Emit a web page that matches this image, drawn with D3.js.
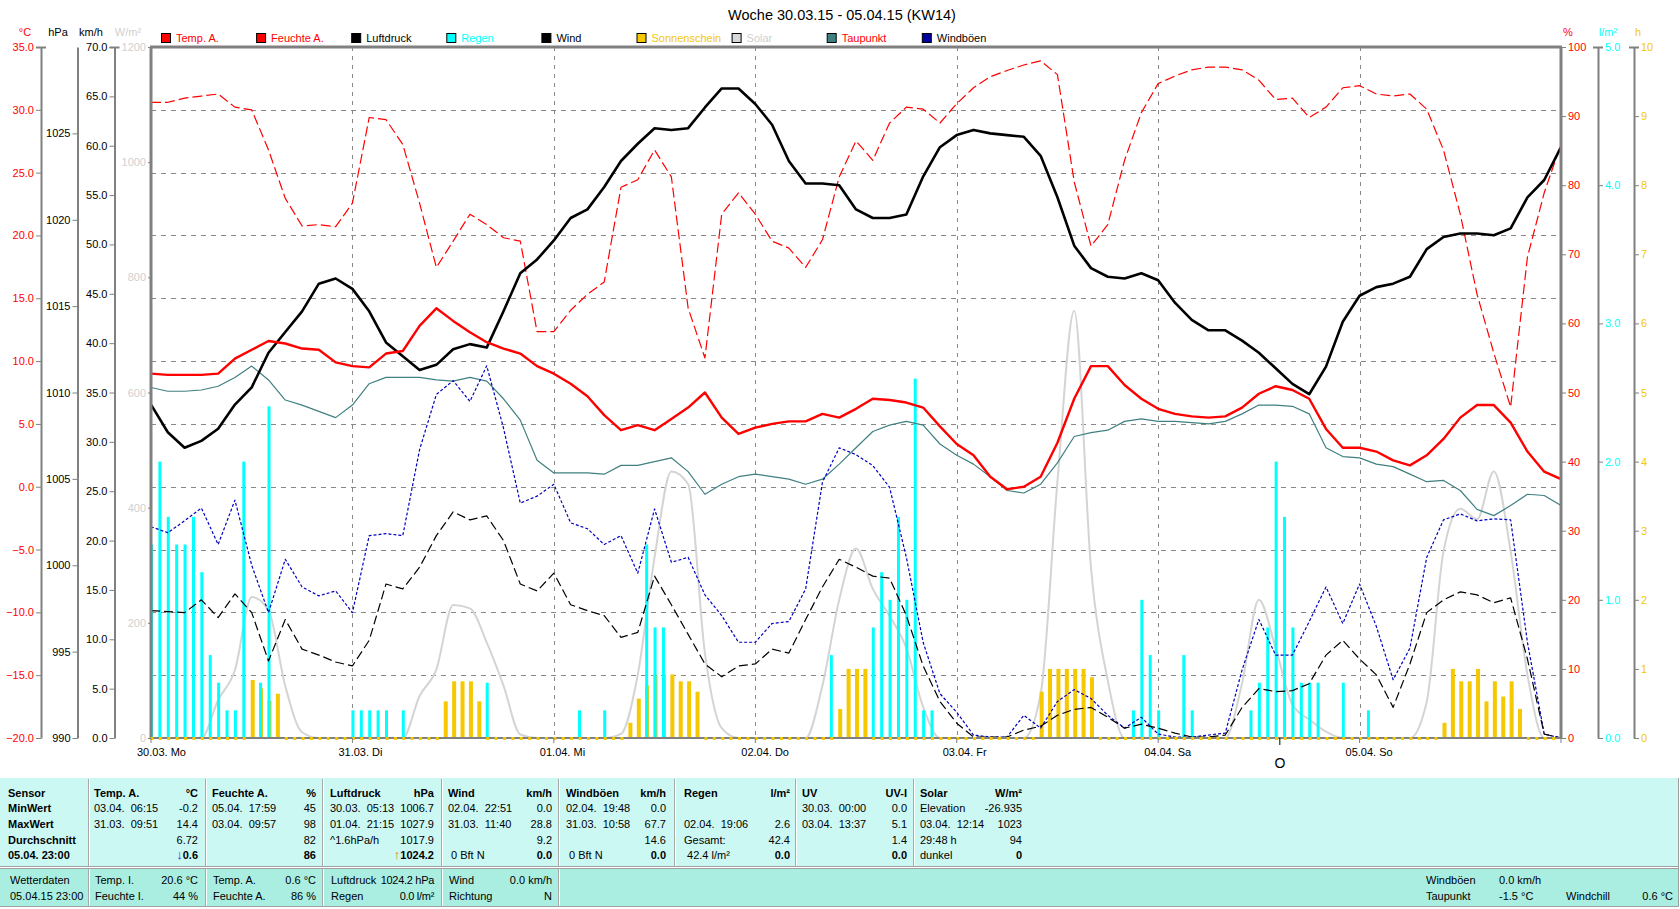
<!DOCTYPE html>
<html>
<head>
<meta charset="utf-8">
<script src="https://cdn.jsdelivr.net/npm/d3@7"></script>
<style>
  body { margin: 0; background: #fff; }
  svg { display: block; font-family: "Liberation Sans", Arial, sans-serif; }
</style>
</head>
<body>
<svg id="chart" width="1680" height="909"></svg>
<script>
(function() {
    'use strict';

    // ---- data (2-hour samples, 30.03. 00:00 .. 06.04. 00:00) ----
    const title = 'Woche 30.03.15 - 05.04.15 (KW14)';
    const dayLabels = ['30.03. Mo', '31.03. Di', '01.04. Mi', '02.04. Do', '03.04. Fr', '04.04. Sa', '05.04. So'];
    const stepHours = 2;

    const tempA = [
        9.0, 8.9, 8.9, 8.9, 9.0, 10.2, 10.9, 11.6, 11.4, 11.0, 10.9, 9.9,
        9.6, 9.5, 10.6, 10.8, 12.8, 14.2, 13.2, 12.3, 11.5, 11.0, 10.6, 9.6,
        9.0, 8.2, 7.2, 5.7, 4.5, 4.9, 4.5, 5.4, 6.3, 7.5, 5.5, 4.2,
        4.7, 5.0, 5.2, 5.2, 5.8, 5.5, 6.2, 7.0, 6.9, 6.7, 6.3, 4.8,
        3.4, 2.5, 0.8, -0.2, 0.0, 0.8, 3.5, 7.0, 9.6, 9.6, 8.1, 7.0,
        6.2, 5.8, 5.6, 5.5, 5.6, 6.3, 7.4, 8.0, 7.7, 7.0, 4.6, 3.1,
        3.1, 2.8, 2.1, 1.7, 2.5, 3.8, 5.5, 6.5, 6.5, 5.1, 2.8, 1.2,
        0.6
    ];
    const humidityA = [
        92, 92, 92.6, 92.9, 93.2, 91.3, 90.9, 85.1, 78.1, 74.1, 74.3, 74.0,
        77.4, 89.8, 89.5, 85.9, 77.4, 68.1, 71.9, 75.8, 74.3, 72.4, 71.9, 58.8,
        58.8, 61.9, 64.2, 66.0, 79.7, 80.8, 85.1, 81.2, 62.2, 55.0, 75.8, 78.9,
        75.8, 71.9, 70.9, 68.1, 72.1, 81.2, 86.4, 83.6, 89.0, 91.3, 91.0, 89.0,
        91.8, 94.1, 95.7, 96.6, 97.4, 98.0, 96.0, 80.5, 71.2, 74.3, 83.6, 90.5,
        94.7, 95.8, 96.7, 97.1, 97.1, 96.7, 95.2, 92.4, 92.6, 89.8, 91.3, 94.1,
        94.4, 93.2, 92.9, 93.2, 91.0, 85.1, 75.8, 64.2, 55.7, 47.9, 69.6, 78.9,
        86
    ];
    const pressure = [
        1009.3, 1007.7, 1006.8, 1007.2, 1007.9, 1009.3, 1010.3, 1012.3, 1013.5, 1014.7, 1016.3, 1016.6,
        1016.0, 1014.7, 1012.9, 1012.1, 1011.3, 1011.6, 1012.5, 1012.8, 1012.6, 1014.7, 1016.9, 1017.7,
        1018.8, 1020.1, 1020.6, 1021.9, 1023.4, 1024.4, 1025.3, 1025.2, 1025.3, 1026.5, 1027.6, 1027.6,
        1026.7, 1025.5, 1023.4, 1022.1, 1022.1, 1022.0, 1020.6, 1020.1, 1020.1, 1020.3, 1022.5, 1024.2,
        1024.9, 1025.2, 1025.0, 1024.9, 1024.8, 1023.7, 1021.3, 1018.5, 1017.2, 1016.7, 1016.6, 1016.9,
        1016.5, 1015.2, 1014.2, 1013.6, 1013.6, 1013.0, 1012.3, 1011.4, 1010.5, 1009.9, 1011.5, 1014.1,
        1015.6, 1016.1, 1016.3, 1016.7, 1018.3, 1019.0, 1019.2, 1019.2, 1019.1, 1019.5, 1021.3, 1022.3,
        1024.2
    ];
    const dewPoint = [
        7.9, 7.6, 7.6, 7.7, 8.0, 8.7, 9.6, 8.5, 6.9, 6.5, 6.0, 5.5,
        6.5, 8.2, 8.7, 8.7, 8.7, 8.5, 8.4, 8.7, 8.4, 7.0, 5.3, 2.1,
        1.1, 1.1, 1.1, 1.0, 1.7, 1.7, 2.0, 2.3, 1.2, -0.6, 0.2, 0.8,
        1.0, 0.8, 0.6, 0.2, 0.6, 1.8, 3.1, 4.4, 4.9, 5.2, 4.9, 3.4,
        2.5, 1.8, 0.8, -0.3, -0.5, 0.2, 1.9, 4.0, 4.3, 4.5, 5.2, 5.4,
        5.2, 5.2, 5.1, 5.0, 5.2, 5.8, 6.5, 6.5, 6.4, 5.8, 3.1, 2.4,
        2.3, 1.8, 1.6, 1.0, 0.4, 0.5, -0.3, -1.8, -2.3, -1.5, -0.6, -0.7,
        -1.5
    ];
    const wind = [
        12.9, 12.8, 12.7, 14.0, 12.2, 14.6, 12.7, 7.8, 12.0, 9.0, 8.4, 7.7,
        7.3, 9.9, 15.6, 15.1, 17.3, 20.5, 22.9, 22.1, 22.5, 20.0, 15.6, 14.9,
        16.7, 13.5, 12.9, 12.4, 10.2, 10.7, 16.4, 13.5, 10.5, 7.5, 6.2, 7.3,
        7.5, 9.0, 8.6, 12.0, 15.3, 18.1, 17.3, 16.4, 16.2, 12.4, 7.3, 3.7,
        1.5, 0.1, 0.1, 0.1, 0.8, 1.2, 2.3, 2.9, 3.1, 2.1, 1.0, 1.4,
        1.0, 0.5, 0.1, 0.1, 0.3, 3.1, 5.0, 4.7, 4.8, 5.5, 8.4, 9.9,
        8.0, 6.4, 3.1, 7.5, 12.7, 14.0, 14.8, 14.5, 13.7, 14.2, 8.0, 0.4,
        0.0
    ];
    const gusts = [
        21.4, 20.8, 22.0, 23.3, 19.6, 24.1, 17.5, 12.7, 18.1, 15.3, 14.4, 14.9,
        12.7, 20.5, 20.7, 20.5, 29.2, 34.8, 36.2, 34.1, 37.7, 31.4, 23.8, 24.5,
        25.7, 21.8, 21.2, 19.6, 20.5, 16.7, 23.2, 17.8, 18.3, 14.5, 12.4, 9.7,
        9.7, 11.6, 11.8, 15.1, 25.9, 29.4, 28.7, 27.6, 25.4, 18.3, 9.7, 4.5,
        2.6, 0.3, 0.1, 0.1, 2.3, 1.0, 3.7, 4.9, 4.0, 2.3, 1.0, 2.1,
        0.4, 0.1, 0.1, 0.3, 0.5, 6.9, 12.0, 8.4, 8.4, 11.8, 15.3, 11.6,
        15.6, 11.3, 5.9, 9.1, 18.3, 22.1, 22.7, 22.0, 22.2, 22.1, 9.7, 0.4,
        0.0
    ];
    const solar = [
        0, 0, 0, 0, 66, 118, 245, 222, 90, 10, 0, 0,
        0, 0, 0, 0, 73, 119, 231, 225, 166, 91, 6, 0,
        0, 0, 0, 0, 7, 110, 314, 463, 441, 147, 17, 0,
        0, 0, 0, 0, 91, 240, 329, 259, 212, 156, 54, 0,
        0, 0, 0, 0, 0, 76, 445, 742, 296, 100, 0, 0,
        0, 0, 0, 0, 0, 95, 240, 156, 58, 32, 11, 0,
        0, 0, 0, 0, 63, 324, 398, 380, 463, 324, 110, 0,
        0
    ];

    // hourly rain bars: [hour since 30.03. 00:00, l/m²]
    const rain = [
        [0, 1.4], [1, 2.0], [2, 1.6], [3, 1.4], [4, 1.4], [5, 1.6], [6, 1.2], [7, 0.6],
        [8, 0.4], [9, 0.2], [10, 0.2], [11, 2.0], [13, 0.4], [14, 2.4],
        [24, 0.2], [25, 0.2], [26, 0.2], [27, 0.2], [28, 0.2], [30, 0.2], [40, 0.4],
        [51, 0.2], [54, 0.2], [59, 1.4], [60, 0.8], [61, 0.8],
        [81, 0.6], [86, 0.8], [87, 1.2], [88, 1.0], [89, 1.6], [90, 1.0], [91, 2.6], [92, 0.2], [93, 0.2],
        [117, 0.2], [118, 1.0], [119, 0.6], [120, 0.2],
        [123, 0.6], [124, 0.2], [131, 0.2], [132, 0.4], [133, 0.8], [134, 2.0], [135, 1.6], [136, 0.8],
        [137, 0.4], [138, 0.4], [139, 0.4], [142, 0.4], [145, 0.2]
    ];
    // hourly sunshine bars: [hour, h]
    const sunshine = [
        [12, 0.84], [13, 0.72], [14, 0.54], [15, 0.64],
        [35, 0.53], [36, 0.82], [37, 0.82], [38, 0.82], [39, 0.53],
        [57, 0.22], [58, 0.57], [59, 0.76], [60, 0.92], [61, 0.92], [62, 0.92], [63, 0.82], [64, 0.82], [65, 0.67],
        [82, 0.42], [83, 1.0], [84, 1.0], [85, 1.0],
        [106, 0.67], [107, 1.0], [108, 1.0], [109, 1.0], [110, 1.0], [111, 1.0], [112, 0.88],
        [154, 0.22], [155, 1.0], [156, 0.82], [157, 0.82], [158, 1.0], [159, 0.53], [160, 0.82], [161, 0.6],
        [162, 0.82], [163, 0.42]
    ];
    const fullMoonHour = 134.5;

    const legendNames = ['Temp. A.', 'Feuchte A.', 'Luftdruck', 'Regen', 'Wind', 'Sonnenschein', 'Solar', 'Taupunkt', 'Windböen'];
    const legendFill = ['#ff0000', '#ff0000', '#000000', '#00ffff', '#000000', '#f5c800', '#d8d8d8', '#408080', '#0000a0'];
    const legendText = ['#ff0000', '#ff0000', '#000000', '#00ffff', '#000000', '#f5c800', '#d0d0d0', '#ff0000', '#000000'];

    // summary table
    const sensorHeads = ['Temp. A.', 'Feuchte A.', 'Luftdruck', 'Wind', 'Windböen', 'Regen', 'UV', 'Solar'];
    const sensorUnits = ['°C', '%', 'hPa', 'km/h', 'km/h', 'l/m²', 'UV-I', 'W/m²'];
    const rowLabels = ['Sensor', 'MinWert', 'MaxWert', 'Durchschnitt', '05.04.  23:00'];
    const minWhen = ['03.04.  06:15', '05.04.  17:59', '30.03.  05:13', '02.04.  22:51', '02.04.  19:48', '', '30.03.  00:00', 'Elevation'];
    const minVal = ['-0.2', '45', '1006.7', '0.0', '0.0', '', '0.0', '-26.935'];
    const maxWhen = ['31.03.  09:51', '03.04.  09:57', '01.04.  21:15', '31.03.  11:40', '31.03.  10:58', '02.04.  19:06', '03.04.  13:37', '03.04.  12:14'];
    const maxVal = ['14.4', '98', '1027.9', '28.8', '67.7', '2.6', '5.1', '1023'];
    const avgNote = ['', '', '^1.6hPa/h', '', '', 'Gesamt:', '', '29:48 h'];
    const avgVal = ['6.72', '82', '1017.9', '9.2', '14.6', '42.4', '1.4', '94'];
    const nowNote = ['', '', '', ' 0 Bft N', ' 0 Bft N', ' 42.4 l/m²', '', 'dunkel'];
    const nowVal = ['0.6', '86', '1024.2', '0.0', '0.0', '0.0', '0.0', '0'];
    const nowArrow = ['↓', '', '↑', '', '', '', '', ''];
    const arrowColor = ['#0040ff', '', '#ff6000', '', '', '', '', ''];

    const currentLeft = [['Wetterdaten', ''], ['Temp. I.', '20.6 °C'], ['Temp. A.', '0.6 °C'], ['Luftdruck', '1024.2 hPa'], ['Wind', '0.0 km/h']];
    const currentLeft2 = [['05.04.15 23:00', ''], ['Feuchte I.', '44 %'], ['Feuchte A.', '86 %'], ['Regen', '0.0 l/m²'], ['Richtung', 'N']];
    const currentRight = [['Windböen', '0.0 km/h', '', ''], ['Taupunkt', '-1.5 °C', 'Windchill', '0.6 °C']];

    // ---- layout ----
    const plot = { left: 151, right: 1561, top: 47, bottom: 738 };
    const svg = d3.select('#chart');
    const grey = '#808080';

    const x = d3.scaleLinear().domain([0, 168]).range([plot.left, plot.right]);
    const yTemp = d3.scaleLinear().domain([-20, 35]).range([plot.bottom, plot.top]);
    const yPres = d3.scaleLinear().domain([990, 1030]).range([plot.bottom, plot.top]);
    const yWind = d3.scaleLinear().domain([0, 70]).range([plot.bottom, plot.top]);
    const ySolar = d3.scaleLinear().domain([0, 1200]).range([plot.bottom, plot.top]);
    const yHum = d3.scaleLinear().domain([0, 100]).range([plot.bottom, plot.top]);
    const yRain = d3.scaleLinear().domain([0, 5]).range([plot.bottom, plot.top]);
    const ySun = d3.scaleLinear().domain([0, 10]).range([plot.bottom, plot.top]);

    // title
    svg.append('text')
        .attr('x', 842).attr('y', 20)
        .attr('text-anchor', 'middle')
        .style('font-size', '14.5px')
        .text(title);

    // legend
    const legend = svg.append('g').selectAll('g')
        .data(legendNames)
        .enter()
        .append('g')
        .attr('transform', (d, i) => `translate(${161.5 + i * 95.1},33.5)`);
    legend.append('rect')
        .attr('width', 9).attr('height', 9)
        .attr('fill', (d, i) => legendFill[i])
        .attr('stroke', '#000');
    legend.append('text')
        .attr('x', 14.5).attr('y', 8.5)
        .attr('fill', (d, i) => legendText[i])
        .style('font-size', '11px')
        .text(d => d);

    // grid
    const grid = svg.append('g');
    grid.selectAll('line.h')
        .data(d3.range(-15, 31, 5))
        .enter().append('line')
        .attr('x1', plot.left).attr('x2', plot.right)
        .attr('y1', d => Math.round(yTemp(d)) + 0.5).attr('y2', d => Math.round(yTemp(d)) + 0.5)
        .attr('stroke', '#888').attr('stroke-dasharray', '5,5');
    grid.selectAll('line.v')
        .data(d3.range(1, 7))
        .enter().append('line')
        .attr('x1', d => Math.round(x(d * 24)) + 0.5).attr('x2', d => Math.round(x(d * 24)) + 0.5)
        .attr('y1', plot.top).attr('y2', plot.bottom)
        .attr('stroke', '#888').attr('stroke-dasharray', '4,5');

    svg.append('clipPath').attr('id', 'plotclip')
        .append('rect')
        .attr('x', plot.left).attr('y', plot.top - 2)
        .attr('width', plot.right - plot.left).attr('height', plot.bottom - plot.top + 2);
    const g = svg.append('g').attr('clip-path', 'url(#plotclip)');

    const tAt = (d, i) => x(i * stepHours);

    // solar (background)
    g.append('path')
        .datum(solar)
        .attr('fill', 'none')
        .attr('stroke', '#d4d4d4')
        .attr('stroke-width', 2)
        .attr('d', d3.line().x(tAt).y(d => ySolar(d)).curve(d3.curveMonotoneX));

    // sunshine bars
    g.append('g').selectAll('rect')
        .data(sunshine)
        .enter().append('rect')
        .attr('x', d => x(d[0]) - 1)
        .attr('y', d => ySun(d[1]))
        .attr('width', 4)
        .attr('height', d => plot.bottom - ySun(d[1]))
        .attr('fill', '#f5c800');

    // rain bars
    g.append('g').selectAll('rect')
        .data(rain)
        .enter().append('rect')
        .attr('x', d => x(d[0]) - 1)
        .attr('y', d => yRain(d[1]))
        .attr('width', 3)
        .attr('height', d => plot.bottom - yRain(d[1]))
        .attr('fill', '#00ffff');

    // lines
    function drawLine(values, scale, color, width, dash) {
        g.append('path')
            .datum(values)
            .attr('fill', 'none')
            .attr('stroke', color)
            .attr('stroke-width', width)
            .attr('stroke-dasharray', dash || null)
            .attr('stroke-linejoin', 'round')
            .attr('d', d3.line().x(tAt).y(d => scale(d)));
    }
    drawLine(dewPoint, yTemp, '#408080', 1.2);
    drawLine(gusts, yWind, '#0000c0', 1.2, '3,2');
    drawLine(wind, yWind, '#000', 1.2, '9,4');
    drawLine(humidityA, yHum, '#ff0000', 1.2, '10,4');
    drawLine(pressure, yPres, '#000', 2.6);
    drawLine(tempA, yTemp, '#ff0000', 2.4);

    // frame
    const frame = svg.append('g').attr('stroke', grey).attr('fill', 'none');
    frame.append('line').attr('x1', plot.left - 1).attr('x2', plot.right + 1).attr('y1', plot.top).attr('y2', plot.top).attr('stroke-width', 3);
    frame.append('line').attr('x1', plot.left).attr('x2', plot.left).attr('y1', plot.top).attr('y2', plot.bottom).attr('stroke-width', 3);
    frame.append('line').attr('x1', plot.right).attr('x2', plot.right).attr('y1', plot.top).attr('y2', plot.bottom).attr('stroke-width', 3);
    frame.append('line').attr('x1', plot.left).attr('x2', plot.right).attr('y1', plot.bottom).attr('y2', plot.bottom).attr('stroke-width', 2);

    // zero markers of the hourly bars, on top of the baseline
    svg.append('g').selectAll('rect')
        .data(d3.range(0, 168).filter(h => !sunshine.some(s => s[0] === h)))
        .enter().append('rect')
        .attr('x', d => x(d) - 0.5)
        .attr('y', plot.bottom - 1)
        .attr('width', 3).attr('height', 3)
        .attr('fill', '#f5c800');

    // axes
    function addAxis(axis, pos, color, topCross) {
        const ag = svg.append('g')
            .attr('transform', `translate(${pos},0)`)
            .call(axis.tickSizeOuter(0));
        ag.attr('font-family', null).attr('font-size', null);
        ag.select('.domain').attr('stroke', grey).attr('stroke-width', 2);
        ag.selectAll('.tick line').attr('stroke', grey);
        ag.selectAll('.tick text').attr('fill', color).style('font-size', '11px');
        if (topCross) {
            ag.append('line').attr('x1', -5).attr('x2', 5)
                .attr('y1', plot.top + 0.5).attr('y2', plot.top + 0.5)
                .attr('stroke', grey).attr('stroke-width', 2);
        }
        return ag;
    }
    addAxis(d3.axisLeft(yTemp).tickValues(d3.range(-20, 36, 5)).tickSize(5).tickPadding(2).tickFormat(d3.format('.1f')), 41, '#ff0000', true);
    addAxis(d3.axisLeft(yPres).tickValues(d3.range(990, 1026, 5)).tickSize(5).tickPadding(2).tickFormat(d3.format('d')), 77.5, '#000', false);
    addAxis(d3.axisLeft(yWind).tickValues(d3.range(0, 71, 5)).tickSize(5).tickPadding(2).tickFormat(d3.format('.1f')), 114.5, '#000', true);
    addAxis(d3.axisLeft(ySolar).tickValues(d3.range(0, 1201, 200)).tickSize(3).tickPadding(2).tickFormat(d3.format('d')), plot.left, '#d0d0d0', false)
        .select('.domain').remove();
    addAxis(d3.axisRight(yHum).tickValues(d3.range(0, 101, 10)).tickSize(5).tickPadding(2).tickFormat(d3.format('d')), plot.right, '#ff0000', false)
        .select('.domain').remove();
    addAxis(d3.axisRight(yRain).tickValues(d3.range(0, 6, 1)).tickSize(5).tickPadding(2).tickFormat(d3.format('.1f')), 1598, '#00ffff', true);
    addAxis(d3.axisRight(ySun).tickValues(d3.range(0, 11, 1)).tickSize(5).tickPadding(2).tickFormat(d3.format('d')), 1634, '#f5c800', true);

    // axis units
    const units = [
        { t: '°C', x: 25, c: '#ff0000' }, { t: 'hPa', x: 58, c: '#000' },
        { t: 'km/h', x: 91, c: '#000' }, { t: 'W/m²', x: 128, c: '#d0d0d0' },
        { t: '%', x: 1568, c: '#ff0000' }, { t: 'l/m²', x: 1608, c: '#00ffff' },
        { t: 'h', x: 1638, c: '#f5c800' }
    ];
    svg.append('g').selectAll('text')
        .data(units)
        .enter().append('text')
        .attr('x', d => d.x).attr('y', 36)
        .attr('text-anchor', 'middle')
        .attr('fill', d => d.c)
        .style('font-size', '11px')
        .text(d => d.t);

    // x axis: day labels and ticks
    const xa = svg.append('g');
    xa.selectAll('line')
        .data(d3.range(0, 8))
        .enter().append('line')
        .attr('x1', d => x(d * 24)).attr('x2', d => x(d * 24))
        .attr('y1', plot.bottom).attr('y2', plot.bottom + 5)
        .attr('stroke', grey);
    xa.selectAll('text')
        .data(dayLabels)
        .enter().append('text')
        .attr('x', (d, i) => x(i * 24) - 14)
        .attr('y', 756)
        .style('font-size', '11px')
        .text(d => d);
    xa.append('line')
        .attr('x1', x(fullMoonHour)).attr('x2', x(fullMoonHour))
        .attr('y1', plot.bottom).attr('y2', plot.bottom + 7)
        .attr('stroke', '#000');
    xa.append('text')
        .attr('x', x(fullMoonHour)).attr('y', 768)
        .attr('text-anchor', 'middle')
        .style('font-size', '14px')
        .text('O');

    // ---- summary table ----
    const tbl = svg.append('g').style('font-size', '11px');
    tbl.append('rect').attr('x', 0).attr('y', 778).attr('width', 1678).attr('height', 88).attr('fill', '#ccf8f4');
    tbl.append('rect').attr('x', 0).attr('y', 869).attr('width', 1678).attr('height', 37).attr('fill', '#aaeee2');
    tbl.append('line').attr('x1', 0).attr('x2', 1678).attr('y1', 866.5).attr('y2', 866.5).attr('stroke', '#a0a0a0');
    tbl.append('line').attr('x1', 0).attr('x2', 1678).attr('y1', 867.5).attr('y2', 867.5).attr('stroke', '#fff');
    tbl.append('line').attr('x1', 0).attr('x2', 1678).attr('y1', 868.5).attr('y2', 868.5).attr('stroke', '#a0a0a0');
    tbl.append('line').attr('x1', 0).attr('x2', 1679).attr('y1', 906.5).attr('y2', 906.5).attr('stroke', '#a0a0a0');
    tbl.append('line').attr('x1', 1678.5).attr('x2', 1678.5).attr('y1', 778).attr('y2', 907).attr('stroke', '#a0a0a0');

    const colLeft = [94, 212, 330, 448, 566, 684, 802, 920];
    const colRight = [198, 316, 434, 552, 666, 790, 907, 1022];
    const seps = [88.5, 205.5, 322.5, 441.5, 558.5, 674.5, 795.5, 913.5];
    seps.forEach(s => {
        tbl.append('line').attr('x1', s).attr('x2', s).attr('y1', 779).attr('y2', 866).attr('stroke', '#a8a8a8');
        tbl.append('line').attr('x1', s + 1).attr('x2', s + 1).attr('y1', 779).attr('y2', 866).attr('stroke', '#fff');
    });
    seps.slice(0, 5).forEach(s => {
        tbl.append('line').attr('x1', s).attr('x2', s).attr('y1', 869).attr('y2', 906).attr('stroke', '#a8a8a8');
        tbl.append('line').attr('x1', s + 1).attr('x2', s + 1).attr('y1', 869).attr('y2', 906).attr('stroke', '#fff');
    });

    const rowY = [797, 812, 828, 844, 859];
    rowLabels.forEach((t, r) => {
        tbl.append('text').attr('x', 8).attr('y', rowY[r])
            .style('font-weight', 'bold').text(t);
    });
    const leftRows = [sensorHeads, minWhen, maxWhen, avgNote, nowNote];
    const rightRows = [sensorUnits, minVal, maxVal, avgVal, nowVal];
    sensorHeads.forEach((h, c) => {
        leftRows.forEach((row, r) => {
            if (!row[c]) return;
            tbl.append('text').attr('x', colLeft[c]).attr('y', rowY[r])
                .style('font-weight', r === 0 ? 'bold' : 'normal')
                .style('white-space', 'pre')
                .text(row[c]);
        });
        rightRows.forEach((row, r) => {
            if (!row[c]) return;
            const tx = tbl.append('text').attr('x', colRight[c]).attr('y', rowY[r])
                .attr('text-anchor', 'end')
                .style('font-weight', (r === 0 || r === 4) ? 'bold' : 'normal');
            if (r === 4 && nowArrow[c]) {
                tx.append('tspan').attr('fill', arrowColor[c]).style('font-size', '13px').text(nowArrow[c]);
            }
            tx.append('tspan').text(row[c]);
        });
    });

    const lowY = [884, 900];
    [currentLeft, currentLeft2].forEach((rows, r) => {
        rows.forEach((pair, c) => {
            const lx = c === 0 ? 10 : colLeft[c - 1] + 1;
            tbl.append('text').attr('x', lx).attr('y', lowY[r]).text(pair[0]);
            if (pair[1]) {
                tbl.append('text').attr('x', colRight[c - 1]).attr('y', lowY[r])
                    .attr('text-anchor', 'end')
                    .style('letter-spacing', c === 3 ? '-0.3px' : null)
                    .text(pair[1]);
            }
        });
    });
    currentRight.forEach((row, r) => {
        tbl.append('text').attr('x', 1426).attr('y', lowY[r]).text(row[0]);
        tbl.append('text').attr('x', 1499).attr('y', lowY[r]).text(row[1]);
        if (row[2]) tbl.append('text').attr('x', 1566).attr('y', lowY[r]).text(row[2]);
        if (row[3]) tbl.append('text').attr('x', 1673).attr('y', lowY[r]).attr('text-anchor', 'end').text(row[3]);
    });
})();
</script>
</body>
</html>
